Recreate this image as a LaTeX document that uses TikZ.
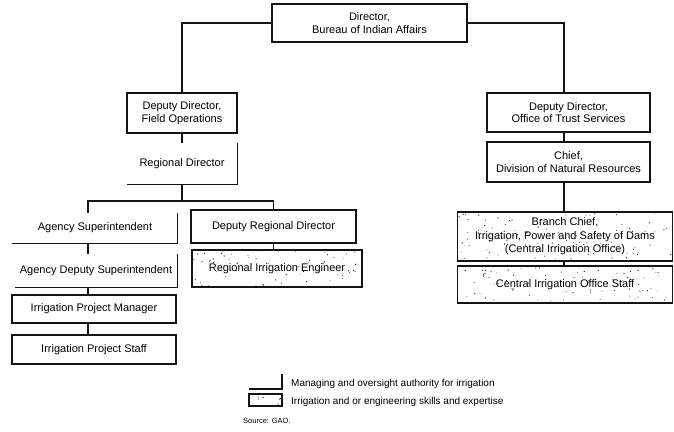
\documentclass[tikz,border=0pt]{standalone}
\usepackage{fontspec}
\setmainfont{Liberation Sans}
\usetikzlibrary{calc,positioning}
\definecolor{inkblack}{RGB}{20,20,20}

\begin{document}
\begin{tikzpicture}[x=1pt,y=-1pt,
  box/.style={draw=inkblack, fill=white, line width=1.1pt, align=center, inner sep=0pt,
    font=\fontsize{11}{12.5}\selectfont},
  authority/.style={align=center, inner sep=0pt, font=\fontsize{11}{12.5}\selectfont},
  speckled/.style={box, line width=1.5pt, path picture={
      \foreach \k in {1,...,#1}{
        \fill[inkblack] let \p1=(path picture bounding box.south west),
          \p2=(path picture bounding box.north east) in
          ({\x1+rnd*(\x2-\x1)},{\y1+rnd*(\y2-\y1)}) circle ({0.35pt+0.35pt*rnd});}}},
  speckled/.default=40,
  link/.style={draw=inkblack, line width=1.2pt},
  keytext/.style={anchor=west, inner sep=0pt, font=\fontsize{10}{11}\selectfont}]
\useasboundingbox (0,0) rectangle (674,431);
\pgfmathsetseed{7}

% top of the chart
\node[box, minimum width=195pt, minimum height=38pt] (dir) at (369.5,23) {Director,\\Bureau of Indian Affairs};

% field operations side
\node[box, minimum width=110pt, minimum height=40pt] (ddfo) at (182,113) {Deputy Director,\\Field Operations};
\node[authority, minimum width=110pt, minimum height=41pt] (rd) at (182,163.5) {Regional Director};
\node[authority, minimum width=165pt, minimum height=30pt] (as) at (95,228) {Agency Superintendent};
\node[authority, minimum width=162pt, minimum height=33pt] (ads) at (96,270.5) {Agency Deputy Superintendent};
\node[box, minimum width=164pt, minimum height=28pt] (ipm) at (94,309) {Irrigation Project Manager};
\node[box, minimum width=164pt, minimum height=29pt] (ips) at (94,349.5) {Irrigation Project Staff};
\node[box, minimum width=165pt, minimum height=33pt] (drd) at (273.5,226.5) {Deputy Regional Director};
\node[speckled=75, minimum width=170pt, minimum height=37pt] (rie) at (277,268.5) {Regional Irrigation Engineer};

% trust services side
\node[box, minimum width=163pt, minimum height=39pt] (ddots) at (568.5,112.5) {Deputy Director,\\Office of Trust Services};
\node[box, minimum width=163pt, minimum height=40pt] (chief) at (568.5,162) {Chief,\\Division of Natural Resources};
\node[speckled=110, minimum width=215pt, minimum height=49pt, font=\fontsize{11}{13.5}\selectfont] (bc) at (565,236.5)
  {Branch Chief,\\Irrigation, Power and Safety of Dams\\(Central Irrigation Office)};
\node[speckled=85, minimum width=215pt, minimum height=37pt] (cios) at (565,284.5) {Central Irrigation Office Staff};

\coordinate (lcol) at (88,0);
\coordinate (rcol) at (564,0);
\coordinate (bus) at (183,201);

% reporting lines
\draw[link] (dir.west) -| (ddfo.north);
\draw[link] (dir.east) -| (rcol |- ddots.north);
\draw[link] (ddfo.south) -- (rd.north);
\draw[link] (rd.south) -- (rd.south |- bus);
\draw[link] (lcol |- as.north) |- (bus) -| (drd.north);
\foreach \a/\b in {as/ads,ads/ipm,ipm/ips}
  \draw[link] (lcol |- \a.south) -- (lcol |- \b.north);
\draw[link] (drd.south) -- (drd.south |- rie.north);
\draw[link] (rcol |- ddots.south) -- (rcol |- chief.north);
\draw[link] (rcol |- chief.south) -- (rcol |- bc.north);
\draw[link] (rcol |- bc.south) -- (rcol |- cios.north);

% open corner for management posts
\foreach \n in {rd,as,ads}
  \draw[link] (\n.north east) -- (\n.south east) -- (\n.south west);

% key
\draw[link] (282,374) |- (249,389);
\node[speckled=8, minimum width=33pt, minimum height=12pt] (keybox) at (265.5,400) {};
\node[keytext] (keyauth) at (291,384) {Managing and oversight authority for irrigation};
\node[keytext] (keyskill) at (291,402) {Irrigation and or engineering skills and expertise};
\node[keytext, font=\fontsize{7.5}{9}\selectfont] (source) at (243,421) {Source: GAO.};
\end{tikzpicture}
\end{document}
